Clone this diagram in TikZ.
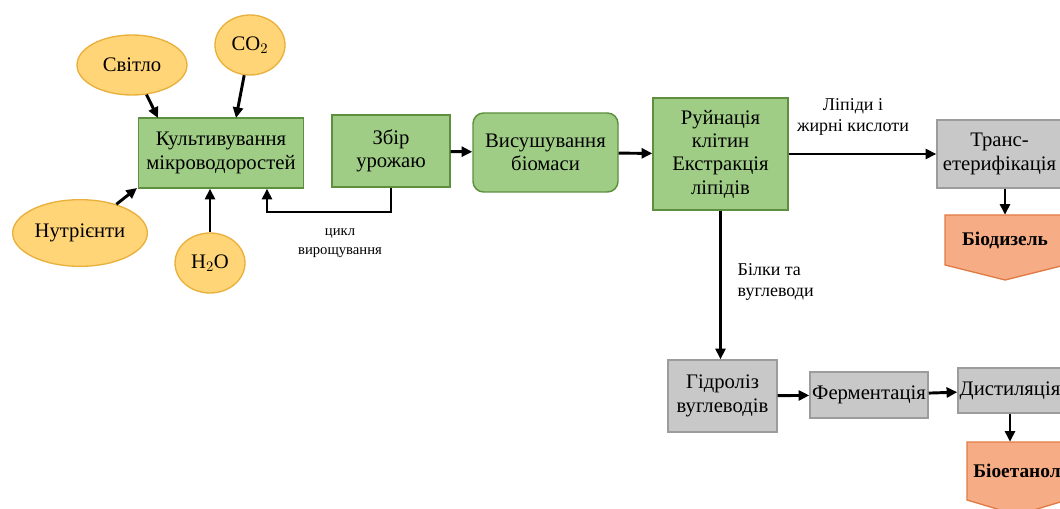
\documentclass[tikz,border=0pt]{standalone}
\usepackage{fontspec}
\setmainfont{Liberation Serif}
\usetikzlibrary{shapes.geometric,arrows.meta}
\definecolor{gfill}{HTML}{A0CD86}
\definecolor{gdraw}{HTML}{5E8F3E}
\definecolor{ofill}{HTML}{FFD577}
\definecolor{odraw}{HTML}{E9B03C}
\definecolor{grfill}{HTML}{C8C8C8}
\definecolor{grdraw}{HTML}{9C9C9C}
\definecolor{pfill}{HTML}{F6AC84}
\definecolor{pdraw}{HTML}{E07B45}
\tikzset{
  txt/.style={font=\fontsize{15.5}{17.5}\selectfont, align=center},
  proc/.style={txt, rectangle, draw=gdraw, fill=gfill, line width=1.1pt, inner sep=1pt},
  src/.style={txt, ellipse, draw=odraw, fill=ofill, line width=1pt, inner sep=0pt},
  gbox/.style={txt, rectangle, draw=grdraw, fill=grfill, line width=1.1pt, inner sep=1pt},
  outp/.style={font=\fontsize{14.5}{17}\selectfont\bfseries, align=center, inner sep=0pt},
  outshape/.style={draw=pdraw, fill=pfill, line width=1pt},
  lab/.style={font=\fontsize{13.5}{16}\selectfont, align=left},
  arr/.style={-{Triangle[length=8pt,width=7.5pt]}, line width=2.2pt},
}
\begin{document}
\begin{tikzpicture}[x=0.75pt,y=-0.75pt]
\useasboundingbox (0,0) rectangle (1060,509);
% sources
\node[src, minimum width=82.5pt, minimum height=45pt] (light) at (132,65) {Світло};
\node[src, minimum width=52.5pt, minimum height=45pt] (co2) at (250,45) {CO$_2$};
\node[src, minimum width=101pt, minimum height=50pt] (nutr) at (80,233) {Нутрієнти};
\node[src, minimum width=52.5pt, minimum height=45pt] (h2o) at (210,263) {H$_2$O};
% green process
\node[proc, minimum width=123.75pt, minimum height=52.5pt] (kult) at (221,153) {Культивування\\мікроводоростей};
\node[proc, minimum width=88.5pt, minimum height=54pt] (zbir) at (391,151) {Збір\\урожаю};
\node[proc, rounded corners=8pt, minimum width=108.75pt, minimum height=59.25pt] (dry) at (545.5,152.5) {Висушування\\біомаси};
\node[proc, minimum width=101.25pt, minimum height=84pt] (ruin) at (720.5,154) {Руйнація\\клітин\\Екстракція\\ліпідів};
% gray
\node[gbox, minimum width=93.75pt, minimum height=51pt] (trans) at (999.5,154) {Транс-\\етерифікація};
\node[gbox, minimum width=81.75pt, minimum height=54pt] (gidr) at (722.5,396) {Гідроліз\\вуглеводів};
\node[gbox, minimum width=88.5pt, minimum height=34.5pt] (ferm) at (869,395) {Ферментація};
\node[gbox, minimum width=78pt, minimum height=33.75pt] (dist) at (1010,390.5) {Дистиляція};
% outputs
\draw[outshape] (945,215) -- (1065,215) -- (1065,265) -- (1005,280) -- (945,265) -- cycle;
\node[outp, minimum width=90pt, minimum height=37.5pt] (biod) at (1005,240) {Біодизель};
\draw[outshape] (967,442) -- (1067,442) -- (1067,500) -- (1017,515) -- (967,500) -- cycle;
\node[outp, minimum width=75pt, minimum height=43.5pt] (bioe) at (1017,471) {Біоетанол};
% arrows into cultivation
\draw[arr] (light) -- (158,118);
\draw[arr] (co2) -- (236,118);
\draw[arr] (nutr) -- (137,188);
\draw[arr] (h2o) -- (kult.south -| h2o);
% main chain
\draw[arr] (zbir) -- (dry);
\draw[arr] (dry) -- (ruin);
\draw[arr] (ruin.east) -- (trans.west);
\node[lab, align=center] (lip) at (853,117) {Ліпіди і\\жирні кислоти};
\draw[arr] (trans.south -| biod.north) -- (biod.north);
\draw[arr] (ruin.south) -- (gidr.north -| ruin.south);
\node[lab, anchor=west] (bilk) at (733,282) {Білки та\\вуглеводи};
\draw[arr] (gidr) -- (ferm);
\draw[arr] (ferm) -- (dist);
\draw[arr] (dist.south) -- (dist.south |- bioe.north);
% cycle
\coordinate (c1) at (267,212);
\draw[arr] (zbir.south) |- (c1) -- (c1 |- kult.south);
\node[font=\fontsize{11}{14}\selectfont, align=center] (cyc) at (340,243) {цикл\\вирощування};
\end{tikzpicture}
\end{document}
